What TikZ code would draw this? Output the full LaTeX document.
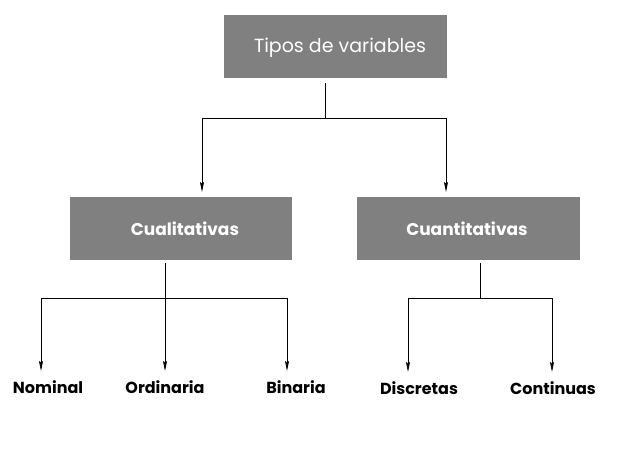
\documentclass[tikz,border=0pt]{standalone}
\usepackage{fontspec}
\setmainfont{Poppins}
\usetikzlibrary{arrows.meta}
\begin{document}
\begin{tikzpicture}[x=1pt,y=-1pt,
  box/.style={fill=boxgray,draw=none,inner sep=0pt,anchor=north west,text=white},
  boxlbl/.style={font=\fontsize{17}{20}\selectfont\bfseries,text=white,inner sep=0pt},
  leaf/.style={font=\fontsize{16}{19}\selectfont\bfseries,inner sep=0pt},
  conn/.style={line width=0.9pt,black},
  arr/.style={conn,-{Stealth[length=10pt,width=4pt,inset=1.5pt]}}]
\definecolor{boxgray}{HTML}{808080}
\useasboundingbox (0,0) rectangle (641,466);
\fill[white] (0,0) rectangle (641,466);
% boxes
\node[box,minimum width=223pt,minimum height=63pt] (top) at (224,15) {};
\node[font=\fontsize{19}{22}\selectfont,text=white,inner sep=0pt] (toplbl) at (340,48) {Tipos de variables};
\node[box,minimum width=222pt,minimum height=63pt] (cual) at (70,197) {};
\node[boxlbl] (cuallbl) at (185,229) {Cualitativas};
\node[box,minimum width=223pt,minimum height=63pt] (cuan) at (357,197) {};
\node[boxlbl] (cuanlbl) at (467,229) {Cuantitativas};
% leaves
\node[leaf] (nom) at (48,387) {Nominal};
\node[leaf] (ord) at (165,387) {Ordinaria};
\node[leaf] (bin) at (296,387) {Binaria};
\node[leaf] (dis) at (419,388) {Discretas};
\node[leaf] (con) at (553,388) {Continuas};
% junction coordinates
\coordinate (s0) at (325,83);
\coordinate (j0) at (325,118);
\coordinate (a1) at (202,192);
\coordinate (a2) at (446,192);
\coordinate (s1) at (165,263);
\coordinate (j1) at (165,298);
\coordinate (b1) at (41,371);
\coordinate (b2) at (165,371);
\coordinate (b3) at (287,371);
\coordinate (s2) at (480,263);
\coordinate (j2) at (480,298);
\coordinate (c1) at (408,372);
\coordinate (c2) at (552,372);
% connectors
\draw[conn] (s0) -- (j0);
\draw[arr] (j0) -| (a1);
\draw[arr] (j0) -| (a2);
\draw[conn] (s1) -- (j1);
\draw[arr] (j1) -| (b1);
\draw[arr] (j1) -- (b2);
\draw[arr] (j1) -| (b3);
\draw[conn] (s2) -- (j2);
\draw[arr] (j2) -| (c1);
\draw[arr] (j2) -| (c2);
\end{tikzpicture}
\end{document}
